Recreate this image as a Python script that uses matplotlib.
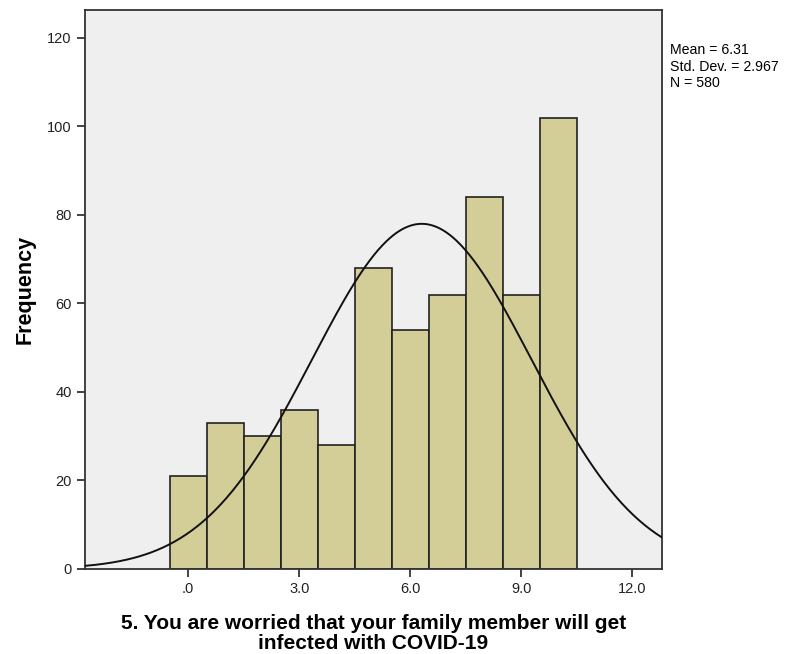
import numpy as np
import matplotlib.pyplot as plt

plt.rcParams['font.family'] = ['Liberation Sans', 'DejaVu Sans']

# score values 0..10 and how many answered each
scores = [0, 1, 2, 3, 4, 5, 6, 7, 8, 9, 10]
freq = [21, 33, 30, 36, 28, 68, 54, 62, 84, 62, 102]
mean_val = 6.31
std_val = 2.967
n_total = 580

fig = plt.figure(figsize=(7.92, 6.54), dpi=100)
ax = fig.add_axes([0.1073, 0.13, 0.728, 0.8547])
ax.set_facecolor('#efefef')

ax.bar(scores, freq, width=1.0, color='#d3ce97', edgecolor='#222222', linewidth=1.2, zorder=2)

# normal curve scaled to counts (bin width 1)
xs = np.linspace(-2.8, 12.8, 400)
ys = n_total / (std_val * np.sqrt(2 * np.pi)) * np.exp(-0.5 * ((xs - mean_val) / std_val) ** 2)
ax.plot(xs, ys, color='#111111', linewidth=1.4, zorder=3)

ax.set_xlim(-2.79, 12.79)
ax.set_ylim(0, 126.3)
ax.set_xticks([0, 3, 6, 9, 12])
ax.set_xticklabels(['.0', '3.0', '6.0', '9.0', '12.0'])
ax.set_yticks(range(0, 121, 20))
ax.tick_params(direction='out', length=6, width=1.2, labelsize=10.5, color='#222222', labelcolor='#222222')
for s in ax.spines.values():
    s.set_color('#333333')
    s.set_linewidth(1.3)

ax.set_ylabel('Frequency', fontsize=15.5, fontweight='bold', labelpad=8)
ax.set_xlabel('5. You are worried that your family member will get\ninfected with COVID-19',
              fontsize=15, fontweight='bold', labelpad=13, linespacing=1.04)

fig.text(0.846, 0.934, 'Mean = 6.31\nStd. Dev. = 2.967\nN = 580', fontsize=10.2,
         va='top', ha='left', linespacing=1.22)

plt.savefig('out.png', dpi=100)
